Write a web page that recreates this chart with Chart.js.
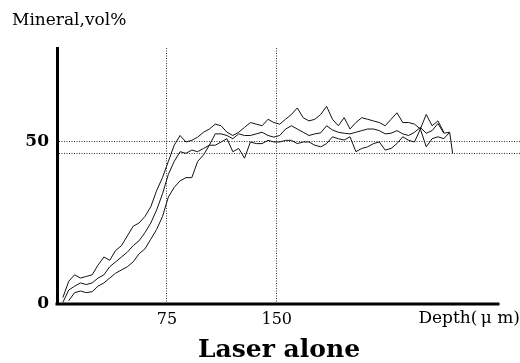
<!DOCTYPE html>
<html>
<head>
<meta charset="utf-8">
<script src="https://cdn.jsdelivr.net/npm/chart.js@4.4.0/dist/chart.umd.min.js"></script>
<style>
  body { margin: 0; background: #fff; }
  #wrap { width: 520px; height: 363px; position: relative; }
</style>
</head>
<body>
<div id="wrap"><canvas id="myChart"></canvas></div>
<script>
// depth in micrometres, mineral in vol%
const depth = [4, 8, 12, 16, 20, 24, 28, 32, 36, 40, 44, 48, 52, 56, 60, 64, 68, 72, 76, 80,
  84, 88, 92, 96, 100, 104, 108, 112, 116, 120, 124, 128, 132, 136, 140, 144, 148, 152, 156, 160,
  164, 168, 172, 176, 180, 184, 188, 192, 196, 200, 204, 208, 212, 216, 220, 224, 228, 232, 236, 240,
  244, 248, 252, 256, 260, 264, 268, 270];

const upper = [2, 7, 9, 8, 8.5, 9, 12, 14.5, 13.5, 16.5, 18, 21, 24, 25, 27, 30, 35, 39, 44, 49,
  52, 50, 50.5, 51.5, 53, 54, 55.5, 55, 53, 52, 53, 54.5, 56, 55.5, 55, 57, 56, 55.5, 57, 58.5,
  60.5, 57.5, 56.5, 57, 58.5, 61, 57, 55, 57.5, 54, 56, 57.5, 57, 56.5, 56, 55, 57, 59, 56, 56,
  55.5, 54, 58.5, 55, 56.5, 53, null, null];

const middle = [0.5, 4.3, 5.5, 6.5, 6, 6.5, 8, 9, 11.5, 13, 14.5, 16, 18, 19.5, 22, 25, 29, 34, 40, 44,
  47, 46.5, 47.5, 47, 48, 49, 52.5, 52.5, 52, 51, 52.5, 52, 52, 52.5, 53, 52, 51.5, 52, 54, 55,
  54, 53, 52, 52.5, 52.8, 55, 53.7, 53, 52.7, 52.5, 53, 53.5, 54, 54, 53.5, 52.5, 52.7, 53.5, 52.5, 52,
  53, 54.5, 52.7, 53.5, 55.7, 52.7, 53, null];

const lower = [null, 1, 3.5, 4, 3.5, 3.8, 5.5, 6.5, 8, 9.5, 10.5, 11.5, 13, 15.5, 17, 20, 23, 27, 33, 36,
  38, 39, 39, 44, 46, 49, 49, 50, 51, 47, 48, 45, 50, 49.5, 49.5, 50.5, 50, 50, 50.5, 50.5,
  49.5, 50, 50, 49, 48.5, 49.5, 51.6, 51, 50.6, 51.6, 47, 48, 48.5, 49.5, 50, 47.5, 48, 49.5, 51.6, 50.5,
  50, 54, 48.5, 51, 51.6, 51, 53, 46.5];

const yTicks = [0, 46.3, 50];
const yLabels = ['0', '', '50'];
const xTicks = [75, 150];
const xLabels = ['75', '150'];
const xAxisEnd = 302;

const serif = "'DejaVu Serif', serif";

function toPoints(values) {
  return depth.map((d, i) => ({ x: d, y: values[i] }));
}

function lineSet(values) {
  return {
    data: toPoints(values),
    borderColor: '#111',
    borderWidth: 1,
    pointRadius: 0,
    tension: 0,
    fill: false
  };
}

// axis line that stops short of the right edge, plus the free texts
const extras = {
  id: 'extras',
  afterDraw(chart) {
    const ctx = chart.ctx;
    const x = chart.scales.x;
    const area = chart.chartArea;
    ctx.save();
    ctx.strokeStyle = '#000';
    ctx.lineWidth = 3;
    ctx.beginPath();
    ctx.moveTo(area.left - 1.5, area.bottom);
    ctx.lineTo(x.getPixelForValue(xAxisEnd), area.bottom);
    ctx.stroke();

    ctx.fillStyle = '#000';
    ctx.textBaseline = 'alphabetic';
    ctx.font = '17px ' + serif;
    ctx.fillText('Mineral,vol%', 12, 25);
    ctx.font = 'bold 25px ' + serif;
    ctx.textAlign = 'center';
    ctx.fillText('Laser alone', 279, 357);
    ctx.restore();
  }
};

new Chart('myChart', {
  type: 'line',
  data: {
    datasets: [lineSet(upper), lineSet(middle), lineSet(lower)]
  },
  options: {
    responsive: true,
    maintainAspectRatio: false,
    animation: false,
    events: [],
    layout: { padding: { top: 48, right: 0, bottom: 33, left: 0 } },
    plugins: {
      legend: { display: false },
      tooltip: { enabled: false }
    },
    scales: {
      x: {
        type: 'linear',
        min: 0,
        max: 316,
        afterBuildTicks: s => { s.ticks = xTicks.map(v => ({ value: v })); },
        afterFit: s => { s.height = 26; },
        ticks: {
          callback: v => xLabels[xTicks.indexOf(v)] || '',
          color: '#000',
          font: { family: serif, size: 16 },
          padding: 6,
          maxRotation: 0,
          autoSkip: false
        },
        grid: { color: '#333', lineWidth: 1, drawTicks: false },
        border: { display: false, dash: [1, 1.5] },
        title: {
          display: true,
          text: 'Depth(\u2009\u03bc m)',
          align: 'end',
          color: '#000',
          font: { family: serif, size: 17 },
          padding: { top: 0, bottom: 1 }
        }
      },
      y: {
        min: 0,
        max: 79,
        afterBuildTicks: s => { s.ticks = yTicks.map(v => ({ value: v })); },
        afterFit: s => { s.width = 57; },
        ticks: {
          callback: v => yLabels[yTicks.indexOf(v)] || '',
          color: '#000',
          font: { family: serif, size: 17, weight: 'bold' },
          padding: 8,
          autoSkip: false
        },
        grid: {
          color: c => (c.tick && c.tick.value === 0) ? 'rgba(0,0,0,0)' : '#333',
          lineWidth: 1,
          drawTicks: false
        },
        border: { display: true, width: 3, color: '#000', dash: [1, 1.5] }
      }
    }
  },
  plugins: [extras]
});
</script>
</body>
</html>
